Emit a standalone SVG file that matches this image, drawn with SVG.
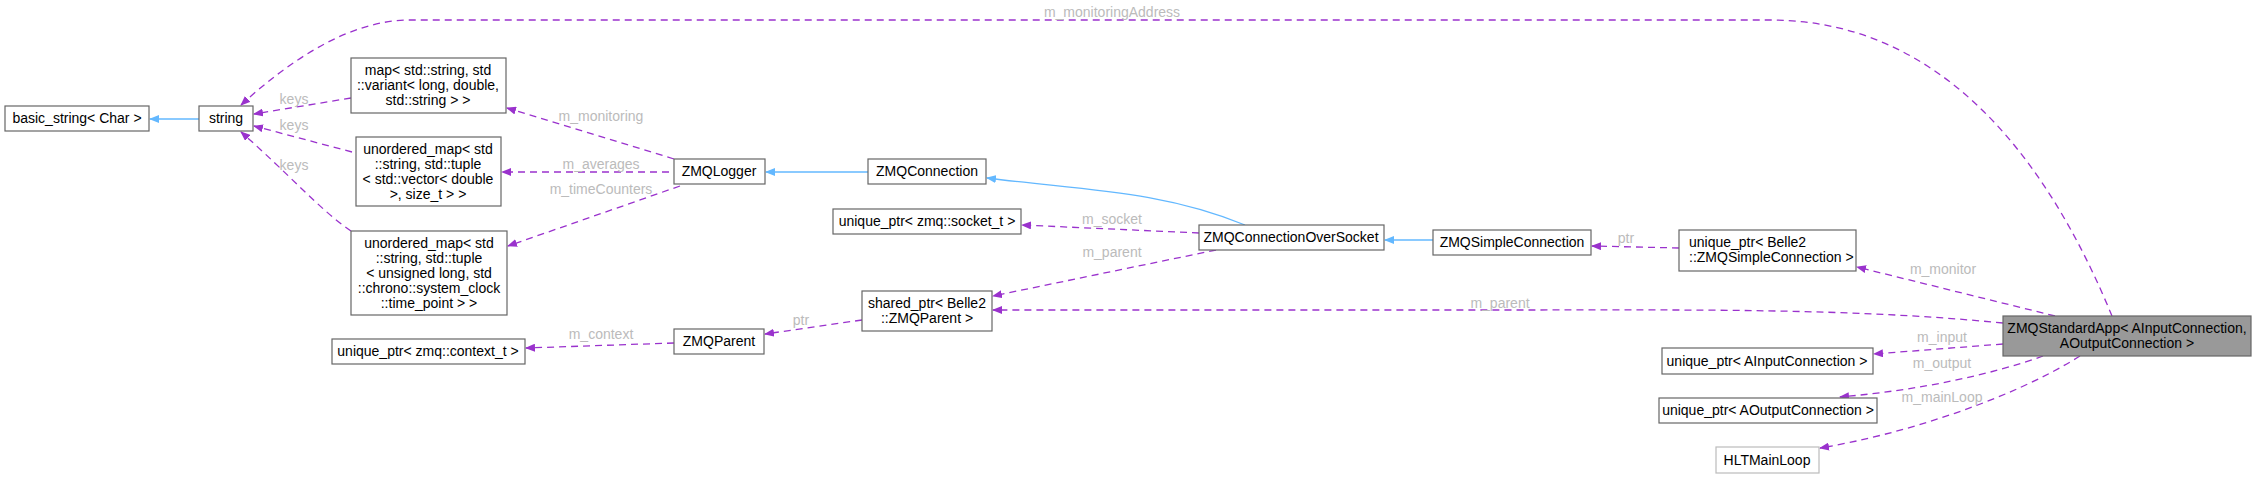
<svg xmlns="http://www.w3.org/2000/svg" width="2256" height="478" viewBox="0 0 2256 478">
<style>
.n rect{fill:#fff;stroke:#666;stroke-width:1.2}
.n text,.t{font-family:"Liberation Sans",Arial,sans-serif;font-size:14px;fill:#000;text-anchor:middle}
.l{font-family:"Liberation Sans",Arial,sans-serif;font-size:14px;fill:#bbb;text-anchor:middle}
.u{fill:none;stroke:#9a32cd;stroke-width:1.3;stroke-dasharray:7,5}
.i{fill:none;stroke:#63b8ff;stroke-width:1.3}
</style>
<defs>
<marker id="ap" markerWidth="10" markerHeight="8" refX="9" refY="4" orient="auto" markerUnits="userSpaceOnUse" viewBox="0 0 10 8"><path d="M0,0L10,4L0,8Z" fill="#9a32cd"/></marker>
<marker id="ab" markerWidth="10" markerHeight="8" refX="9" refY="4" orient="auto" markerUnits="userSpaceOnUse" viewBox="0 0 10 8"><path d="M0,0L10,4L0,8Z" fill="#63b8ff"/></marker>
</defs>
<rect width="2256" height="478" fill="#fff"/>
<g id="edges">
<path class="i" d="M199,119H150" marker-end="url(#ab)"/>
<path class="u" d="M351,98L254,114" marker-end="url(#ap)"/>
<path class="u" d="M352,152L254,126" marker-end="url(#ap)"/>
<path class="u" d="M351,231C320,210 290,175 241,132" marker-end="url(#ap)"/>
<path class="u" d="M2112,316C2060,190 1960,20 1770,20H410C350,20 290,60 241,105" marker-end="url(#ap)"/>
<path class="u" d="M674,159L507,108" marker-end="url(#ap)"/>
<path class="u" d="M669,172H502" marker-end="url(#ap)"/>
<path class="u" d="M680,186L508,246" marker-end="url(#ap)"/>
<path class="i" d="M868,172H766" marker-end="url(#ab)"/>
<path class="i" d="M1245,225C1160,190 1080,190 987,178" marker-end="url(#ab)"/>
<path class="u" d="M1199,233L1022,225" marker-end="url(#ap)"/>
<path class="u" d="M1216,250L993,296" marker-end="url(#ap)"/>
<path class="i" d="M1433,240H1385" marker-end="url(#ab)"/>
<path class="u" d="M1679,248L1592,246" marker-end="url(#ap)"/>
<path class="u" d="M862,320L765,334" marker-end="url(#ap)"/>
<path class="u" d="M674,343L526,348" marker-end="url(#ap)"/>
<path class="u" d="M2055,316L1857,267" marker-end="url(#ap)"/>
<path class="u" d="M2003,323C1850,308 1700,310 1500,310H993" marker-end="url(#ap)"/>
<path class="u" d="M2003,344L1874,354" marker-end="url(#ap)"/>
<path class="u" d="M2043,356C1990,375 1920,390 1840,397" marker-end="url(#ap)"/>
<path class="u" d="M2080,356C2010,400 1900,435 1820,448" marker-end="url(#ap)"/>
<text class="l" x="294" y="104">keys</text>
<text class="l" x="294" y="130">keys</text>
<text class="l" x="294" y="170">keys</text>
<text class="l" x="1112" y="17">m_monitoringAddress</text>
<text class="l" x="601" y="121">m_monitoring</text>
<text class="l" x="601" y="169">m_averages</text>
<text class="l" x="601" y="194">m_timeCounters</text>
<text class="l" x="1112" y="224">m_socket</text>
<text class="l" x="1112" y="257">m_parent</text>
<text class="l" x="1626" y="243">ptr</text>
<text class="l" x="801" y="325">ptr</text>
<text class="l" x="601" y="339">m_context</text>
<text class="l" x="1500" y="308">m_parent</text>
<text class="l" x="1943" y="274">m_monitor</text>
<text class="l" x="1942" y="342">m_input</text>
<text class="l" x="1942" y="368">m_output</text>
<text class="l" x="1942" y="402">m_mainLoop</text>
</g>
<g id="basic_string" class="n"><rect x="5" y="106" width="144" height="25"/><text x="77" y="123">basic_string&lt; Char &gt;</text></g>
<g id="string" class="n"><rect x="199" y="106" width="54" height="25"/><text x="226" y="123">string</text></g>
<g id="map" class="n"><rect x="351" y="58" width="155" height="55"/><text x="428" y="75">map&lt; std::string, std</text><text x="428" y="90">::variant&lt; long, double,</text><text x="428" y="105">std::string &gt; &gt;</text></g>
<g id="umap1" class="n"><rect x="356" y="137" width="145" height="69"/><text x="428" y="154">unordered_map&lt; std</text><text x="428" y="169">::string, std::tuple</text><text x="428" y="184">&lt; std::vector&lt; double</text><text x="428" y="199">&gt;, size_t &gt; &gt;</text></g>
<g id="umap2" class="n"><rect x="351" y="231" width="156" height="84"/><text x="429" y="248">unordered_map&lt; std</text><text x="429" y="263">::string, std::tuple</text><text x="429" y="278">&lt; unsigned long, std</text><text x="429" y="293">::chrono::system_clock</text><text x="429" y="308">::time_point &gt; &gt;</text></g>
<g id="context" class="n"><rect x="332" y="339" width="193" height="25"/><text x="428" y="356">unique_ptr&lt; zmq::context_t &gt;</text></g>
<g id="ZMQLogger" class="n"><rect x="674" y="159" width="91" height="25"/><text x="719" y="176">ZMQLogger</text></g>
<g id="ZMQParent" class="n"><rect x="674" y="329" width="90" height="25"/><text x="719" y="346">ZMQParent</text></g>
<g id="ZMQConnection" class="n"><rect x="868" y="159" width="118" height="25"/><text x="927" y="176">ZMQConnection</text></g>
<g id="socket" class="n"><rect x="833" y="209" width="188" height="25"/><text x="927" y="226">unique_ptr&lt; zmq::socket_t &gt;</text></g>
<g id="shared_parent" class="n"><rect x="862" y="291" width="130" height="40"/><text x="927" y="308">shared_ptr&lt; Belle2</text><text x="927" y="323">::ZMQParent &gt;</text></g>
<g id="ZMQConnectionOverSocket" class="n"><rect x="1199" y="225" width="185" height="25"/><text x="1291" y="242">ZMQConnectionOverSocket</text></g>
<g id="ZMQSimpleConnection" class="n"><rect x="1433" y="230" width="158" height="25"/><text x="1512" y="247">ZMQSimpleConnection</text></g>
<g id="simple_ptr" class="n"><rect x="1679" y="230" width="177" height="41"/><text x="1689" y="247" style="text-anchor:start">unique_ptr&lt; Belle2</text><text x="1689" y="262" style="text-anchor:start">::ZMQSimpleConnection &gt;</text></g>
<g id="ZMQStandardApp" class="n"><rect x="2003" y="316" width="248" height="40" style="fill:#999"/><text x="2127" y="333">ZMQStandardApp&lt; AInputConnection,</text><text x="2127" y="348">AOutputConnection &gt;</text></g>
<g id="input" class="n"><rect x="1662" y="348" width="211" height="26"/><text x="1767" y="366">unique_ptr&lt; AInputConnection &gt;</text></g>
<g id="output" class="n"><rect x="1659" y="398" width="218" height="25"/><text x="1768" y="415">unique_ptr&lt; AOutputConnection &gt;</text></g>
<g id="HLTMainLoop" class="n"><rect x="1716" y="447" width="103" height="26" style="stroke:#bbb"/><text x="1767" y="465">HLTMainLoop</text></g>
</svg>
